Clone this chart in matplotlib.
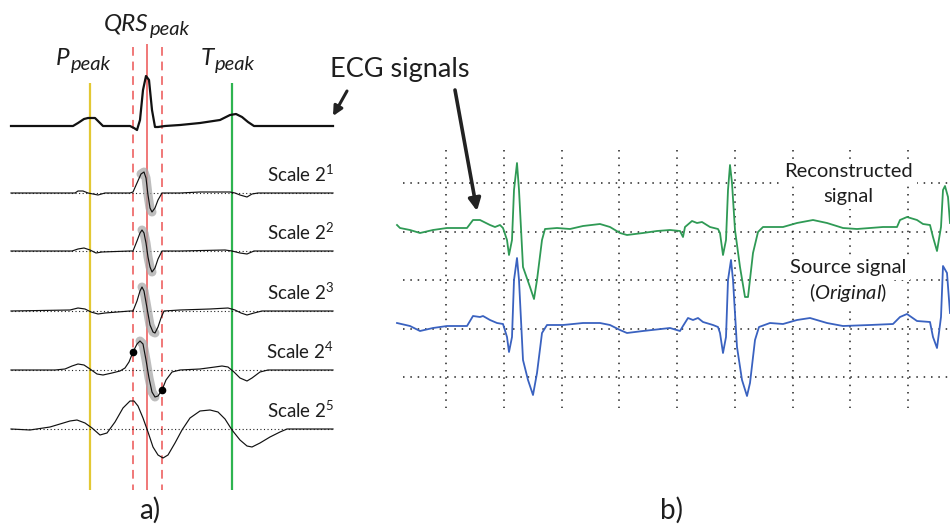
import numpy as np
import matplotlib
matplotlib.use("Agg")
import matplotlib.pyplot as plt

plt.rcParams['font.family'] = ['Lato', 'DejaVu Sans']
plt.rcParams['mathtext.fontset'] = 'custom'
plt.rcParams['mathtext.rm'] = 'Lato'
plt.rcParams['mathtext.it'] = 'Lato:italic'

# ---------------- data: panel a) (time, amplitude relative to baseline) -------------
ecg_t = [11, 40, 73, 78, 84, 88, 95, 100, 103, 130, 134, 137, 140, 143, 146, 149, 152, 155,
         158, 165, 180, 200, 220, 230, 236, 242, 248, 254, 270, 300, 333]
ecg_a = [0, 0, 0, 3, 7, 8, 8, 3, 0, 0, -2, -4, 6, 36, 50, 46, 16, -1,
         -1, 0, 1, 3, 6, 11, 12, 9, 4, 0, 0, 0, 0]

s1_t = [11, 75, 78, 83, 88, 93, 98, 105, 130, 133, 137, 141, 144, 146, 148, 150, 152, 155,
        158, 162, 180, 200, 215, 230, 235, 240, 247, 252, 258, 333]
s1_a = [0, 0, 2, 2, 0, -1, -2, 0, 0, 1, 10, 19, 21, 15, -2, -15, -19, -15,
        -7, 0, 0, 1, 1, 1, 0, -2, -4, -1, 0, 0]

s2_t = [11, 72, 78, 84, 90, 96, 102, 130, 133, 137, 140, 142, 144, 146, 148, 150, 152, 155,
        158, 162, 180, 225, 232, 240, 247, 254, 333]
s2_a = [0, 0, 2, 3, 1, -2, -1, 0, 0, 10, 18, 21, 18, 8, -6, -16, -21, -17,
        -8, 0, 0, 1, 0, -2, -3, 0, 0]

s3_t = [11, 70, 78, 85, 91, 98, 105, 130, 133, 137, 140, 142, 144, 147, 150, 153, 155, 158,
        161, 164, 180, 210, 228, 235, 241, 247, 254, 262, 333]
s3_a = [0, 1, 3, 2, -1, -3, -2, 0, 0, 10, 20, 24, 20, 3, -14, -21, -22, -16,
        -7, 0, 1, 2, 3, 1, -2, -4, -2, 0, 0]

s4_t = [11, 55, 65, 72, 78, 84, 90, 97, 103, 112, 120, 125, 129, 133, 137, 140, 143, 146,
        149, 152, 155, 158, 162, 166, 172, 180, 200, 215, 222, 228, 234, 240, 247, 252,
        260, 268, 333]
s4_a = [0, 0, 1, 4, 6, 5, 1, -4, -5, -3, -1, 2, 8, 18, 26, 29, 26, 10,
        -8, -22, -27, -26, -20, -10, -2, 0, 1, 3, 4, 3, -2, -8, -11, -8,
        -2, 0, 0]

s5_t = [11, 30, 50, 60, 70, 77, 85, 92, 100, 107, 115, 123, 130, 134, 138, 143, 148, 153,
        158, 163, 168, 175, 182, 190, 200, 210, 218, 225, 232, 240, 247, 252, 260, 270,
        280, 287, 333]
s5_a = [0, -1, 2, 5, 8, 9, 6, 1, -6, -4, 7, 21, 28, 28, 23, 11, -3, -18,
        -26, -29, -26, -14, -1, 11, 18, 19, 17, 10, -1, -11, -17, -18, -14, -8,
        -3, 0, 0]

scale_labels = ["1", "2", "3", "4", "5"]
shade_ranges = [(141, 154), (141, 153), (141, 155), (138, 156)]
extrema_t = [133, 162]          # marked points on scale 2^4
marker_t = {"P": 90, "QRS": 147, "T": 232, "QRS_on": 133, "QRS_off": 162}

# ---------------- data: panel b) (time, screen level) ----------------
green_pts = [(397, 225), (400, 228), (410, 230), (420, 233), (433, 230), (447, 228), (467, 228),
             (473, 220), (480, 220), (490, 225), (495, 227), (500, 225), (503, 228), (507, 240),
             (509, 255), (512, 240), (514, 190), (517, 163), (519, 190), (523, 267), (530, 287),
             (534, 299), (537, 280), (542, 240), (545, 229), (557, 228), (570, 229), (583, 226),
             (600, 224), (610, 227), (620, 233), (627, 235), (643, 233), (657, 231), (670, 230),
             (680, 231), (683, 237), (685, 227), (692, 221), (697, 223), (702, 222), (710, 227),
             (718, 229), (720, 233), (723, 255), (726, 240), (728, 190), (730, 165), (732, 183),
             (735, 230), (740, 267), (745, 297), (748, 297), (753, 253), (758, 232), (763, 227),
             (783, 227), (797, 223), (813, 220), (827, 223), (843, 228), (857, 229), (883, 227),
             (897, 227), (900, 220), (907, 217), (917, 220), (923, 224), (930, 225), (933, 237),
             (937, 251), (941, 227), (943, 190), (945, 186), (948, 197), (950, 223)]
blue_pts = [(397, 323), (410, 326), (420, 331), (433, 328), (447, 326), (467, 326), (473, 316),
            (480, 317), (483, 316), (490, 320), (497, 323), (503, 324), (507, 337), (509, 352),
            (512, 337), (514, 280), (517, 258), (519, 280), (523, 360), (528, 380), (533, 395),
            (537, 373), (542, 333), (547, 325), (563, 325), (583, 323), (600, 323), (610, 325),
            (620, 330), (627, 333), (643, 331), (670, 328), (680, 331), (683, 326), (688, 318),
            (693, 320), (698, 318), (703, 322), (713, 325), (718, 327), (720, 333), (723, 353),
            (726, 337), (728, 280), (731, 260), (733, 280), (737, 347), (742, 380), (747, 396),
            (750, 383), (755, 340), (759, 327), (770, 323), (783, 324), (797, 320), (810, 318),
            (827, 323), (843, 326), (870, 325), (893, 324), (900, 317), (907, 314), (917, 321),
            (930, 322), (933, 337), (937, 348), (941, 317), (943, 266), (947, 273), (950, 313)]

# ---------------- figure ----------------
fig = plt.figure(figsize=(9.5, 5.29), dpi=100)
ax = fig.add_axes([0, 0, 1, 1])
ax.set_xlim(0, 950)
ax.set_ylim(529, 0)
ax.axis('off')

# layout constants
ecg_base = 126
scale_bases = [193, 251, 311, 370, 429]
x_left, x_right = 11, 333
v_top_main, v_top_qrs, v_bot = 83, 44, 490
txt = '#1e1e1e'

# vertical marker lines
ax.vlines(marker_t["P"], v_top_main, v_bot, color='#e3c833', lw=1.6, zorder=1)
ax.vlines(marker_t["T"], v_top_main, v_bot, color='#2eb450', lw=1.6, zorder=1)
ax.vlines(marker_t["QRS"], v_top_qrs, v_bot, color='#f07878', lw=1.4, zorder=1)
for k in ("QRS_on", "QRS_off"):
    ax.vlines(marker_t[k], v_top_qrs + 3, v_bot, color='#f07878', lw=1.4,
              linestyles=(0, (4.5, 3)), zorder=1)

# top ECG
ax.plot(ecg_t, ecg_base - np.array(ecg_a), color='#111111', lw=1.6, zorder=4)

scales = [(s1_t, s1_a), (s2_t, s2_a), (s3_t, s3_a), (s4_t, s4_a), (s5_t, s5_a)]
for i, ((t, a), base) in enumerate(zip(scales, scale_bases)):
    t = np.array(t, float)
    y = base - np.array(a, float)
    ax.hlines(base, x_left, x_right, color='#222222', lw=0.8, linestyles=(0, (1, 2.2)), zorder=2)
    if i < len(shade_ranges):
        lo, hi = shade_ranges[i]
        m = (t >= lo) & (t <= hi)
        ax.plot(t[m], y[m], color='#a8a8a8', lw=6.5, alpha=0.75,
                solid_capstyle='round', solid_joinstyle='round', zorder=3)
    ax.plot(t, y, color='#111111', lw=0.85, zorder=4)
    ax.text(x_right + 1, base - 11, "Scale $\\mathregular{2^{%s}}$" % scale_labels[i],
            fontsize=13.5, ha='right', va='baseline', color=txt, zorder=5)
    if i == 3:
        ax.plot(extrema_t, np.interp(extrema_t, t, y), 'o', color='black', ms=4.5, zorder=6)

# peak labels with subscripts
renderer = fig.canvas.get_renderer()


def peak_label(xc, yb, main, size_main=17.5, size_sub=14.5, drop=5):
    t1 = ax.text(0, yb, main, fontsize=size_main, style='italic', ha='left',
                 va='baseline', color=txt)
    t2 = ax.text(0, yb + drop, 'peak', fontsize=size_sub, style='italic', ha='left',
                 va='baseline', color=txt)
    w1 = t1.get_window_extent(renderer).width
    w2 = t2.get_window_extent(renderer).width
    x0 = xc - (w1 + w2) / 2
    t1.set_x(x0)
    t2.set_x(x0 + w1 + 1)


peak_label(146.5, 30, "QRS")
peak_label(83, 65, "P")
peak_label(227, 65, "T")

ax.text(150, 519, "a)", fontsize=20, ha='center', va='baseline', color=txt)
ax.text(672, 519, "b)", fontsize=20, ha='center', va='baseline', color=txt)

# ECG signals label and arrows
ax.text(330, 77, "ECG signals", fontsize=19.5, ha='left', va='baseline', color=txt)
ax.annotate('', xy=(333, 116), xytext=(347, 91),
            arrowprops=dict(arrowstyle='-|>', lw=2.2, color='#222222',
                            mutation_scale=14, shrinkA=0, shrinkB=0))
ax.annotate('', xy=(477, 211), xytext=(455, 90),
            arrowprops=dict(arrowstyle='-|>', lw=2.6, color='#222222',
                            mutation_scale=18, shrinkA=0, shrinkB=0))

# panel b grid
grid_x0, grid_x1, grid_y0, grid_y1 = 403, 950, 150, 408
gx = 446 + 57.75 * np.arange(9)
gy = 183 + 48.5 * np.arange(5)
dot = (0, (1, 3.8))
ax.vlines(gx, grid_y0, grid_y1, color='#222222', lw=1.1, linestyles=dot, zorder=1)
ax.hlines(gy, grid_x0, grid_x1, color='#222222', lw=1.1, linestyles=dot, zorder=1)

gt, gyv = zip(*green_pts)
bt, byv = zip(*blue_pts)
ax.plot(gt, gyv, color='#2f9a55', lw=1.3, zorder=4, solid_joinstyle='round')
ax.plot(bt, byv, color='#3a62c0', lw=1.3, zorder=4, solid_joinstyle='round')

box = dict(facecolor='white', edgecolor='none', pad=3)
ax.text(848, 177, "Reconstructed", fontsize=14.5, ha='center', va='baseline',
        color=txt, bbox=box, zorder=3)
ax.text(848, 202, "signal", fontsize=14.5, ha='center', va='baseline',
        color=txt, bbox=box, zorder=3)
ax.text(848, 273, "Source signal", fontsize=14.5, ha='center', va='baseline',
        color=txt, bbox=box, zorder=3)
ax.text(848, 299, "($\\mathit{Original}$)", fontsize=14.5, ha='center', va='baseline',
        color=txt, bbox=box, zorder=3)

fig.savefig("out.png", dpi=100)
